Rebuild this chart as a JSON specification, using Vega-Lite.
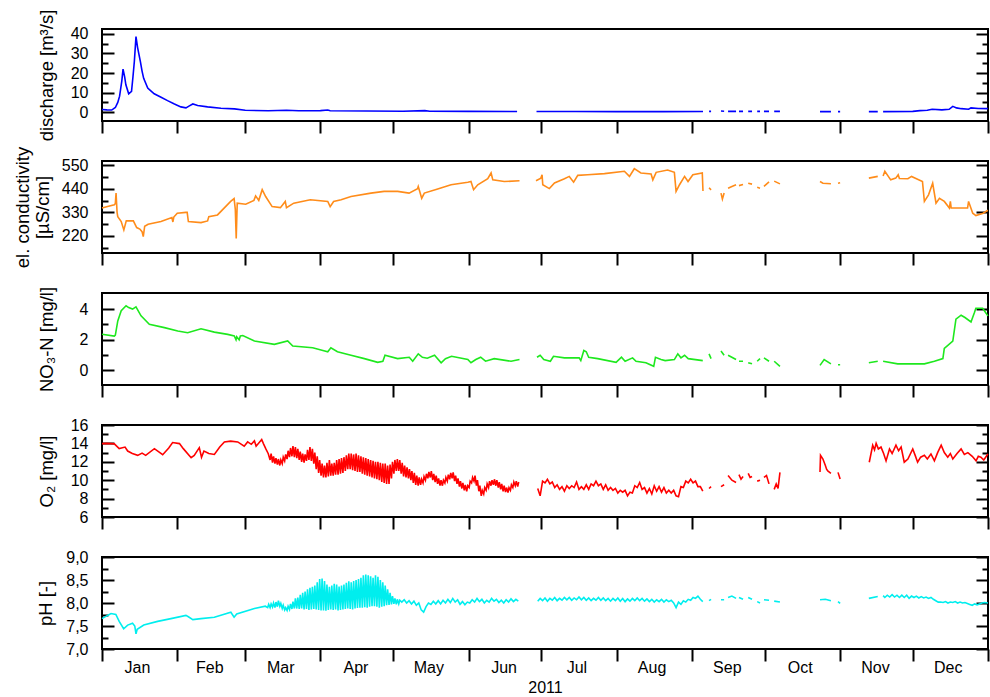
{
"$schema":"https://vega.github.io/schema/vega-lite/v6.json",
"padding":{"top":8,"left":12,"right":2,"bottom":2},
"spacing":40,
"bounds":"flush",
"config":{"view":{"stroke":"black","strokeWidth":2},"font":"Liberation Sans",
"axis":{"labelFont":"Liberation Sans","titleFont":"Liberation Sans","labelColor":"black","titleColor":"black","tickColor":"black","labelFontSize":16,"titleFontSize":18.5,"titleFontWeight":"normal","grid":false,"domain":false,"tickWidth":2,"labelOverlap":false,"labelBound":false,"labelFlush":false}},
"vconcat":[
{"width":886,"height":92,"resolve":{"axis":{"y":"independent"}},
"layer":[
{"data":{"format":{"parse":{"t":"date:'%Y-%m-%d %H'"}},"values":[
{"t":"2011-01-01 00","v":1.4},{"t":"2011-01-03 00","v":1.2},{"t":"2011-01-05 00","v":1.1},{"t":"2011-01-06 12","v":2.4},{"t":"2011-01-07 12","v":5},{"t":"2011-01-08 06","v":8.2},{"t":"2011-01-09 04","v":16},{"t":"2011-01-09 16","v":22},{"t":"2011-01-10 08","v":18},{"t":"2011-01-10 20","v":14},{"t":"2011-01-12 00","v":9.4},{"t":"2011-01-13 04","v":10.6},{"t":"2011-01-13 18","v":18},{"t":"2011-01-14 08","v":26},{"t":"2011-01-15 00","v":38.6},{"t":"2011-01-15 16","v":33},{"t":"2011-01-16 20","v":25.7},{"t":"2011-01-17 12","v":21},{"t":"2011-01-18 04","v":17.3},{"t":"2011-01-19 20","v":12.3},{"t":"2011-01-21 00","v":11},{"t":"2011-01-22 12","v":9.4},{"t":"2011-01-25 08","v":7.6},{"t":"2011-01-28 00","v":5.9},{"t":"2011-01-30 20","v":4.2},{"t":"2011-02-02 12","v":2.7},{"t":"2011-02-04 14","v":2.2},{"t":"2011-02-06 00","v":3.2},{"t":"2011-02-07 10","v":4.2},{"t":"2011-02-09 10","v":3.4},{"t":"2011-02-13 12","v":2.7},{"t":"2011-02-19 00","v":2.0},{"t":"2011-02-24 14","v":1.7},{"t":"2011-03-01 00","v":1.0},{"t":"2011-03-10 12","v":0.7},{"t":"2011-03-18 00","v":1.0},{"t":"2011-03-23 00","v":0.7},{"t":"2011-04-01 00","v":0.8},{"t":"2011-04-04 00","v":1.1},{"t":"2011-04-05 00","v":0.7},{"t":"2011-04-20 00","v":0.6},{"t":"2011-05-05 00","v":0.5},{"t":"2011-05-14 00","v":0.8},{"t":"2011-05-16 00","v":0.5},{"t":"2011-06-01 00","v":0.4},{"t":"2011-06-21 00","v":0.35},
{"t":"2011-06-25 00","v":null},
{"t":"2011-06-29 00","v":0.35},{"t":"2011-07-15 00","v":0.35},{"t":"2011-08-01 00","v":0.3},{"t":"2011-08-20 00","v":0.3},{"t":"2011-09-05 14","v":0.35},
{"t":"2011-09-07 00","v":null},{"t":"2011-09-08 02","v":0.4},{"t":"2011-09-08 22","v":0.4},
{"t":"2011-09-11 00","v":null},{"t":"2011-09-13 00","v":0.6},{"t":"2011-09-14 07","v":0.5},
{"t":"2011-09-15 03","v":null},{"t":"2011-09-15 22","v":0.4},{"t":"2011-09-19 05","v":0.4},
{"t":"2011-09-19 20","v":null},{"t":"2011-09-20 10","v":0.4},{"t":"2011-09-22 02","v":0.4},
{"t":"2011-09-23 00","v":null},{"t":"2011-09-24 05","v":0.4},{"t":"2011-09-25 19","v":0.4},
{"t":"2011-09-26 20","v":null},{"t":"2011-09-27 22","v":0.4},{"t":"2011-09-29 02","v":0.4},
{"t":"2011-09-29 20","v":null},{"t":"2011-09-30 17","v":0.4},{"t":"2011-10-02 19","v":0.4},
{"t":"2011-10-03 20","v":null},{"t":"2011-10-04 22","v":0.4},{"t":"2011-10-07 07","v":0.4},
{"t":"2011-10-15 00","v":null},{"t":"2011-10-23 19","v":0.3},{"t":"2011-10-28 07","v":0.3},
{"t":"2011-10-29 20","v":null},{"t":"2011-10-31 05","v":0.3},{"t":"2011-11-01 02","v":0.3},
{"t":"2011-11-07 00","v":null},{"t":"2011-11-12 22","v":0.3},{"t":"2011-11-16 14","v":0.3},
{"t":"2011-11-17 12","v":null},
{"t":"2011-11-18 19","v":0.3},{"t":"2011-12-01 00","v":0.4},{"t":"2011-12-04 00","v":0.8},{"t":"2011-12-07 00","v":1.0},{"t":"2011-12-09 00","v":1.5},{"t":"2011-12-13 00","v":1.2},{"t":"2011-12-16 00","v":1.5},{"t":"2011-12-17 12","v":3.0},{"t":"2011-12-19 00","v":2.2},{"t":"2011-12-21 00","v":1.8},{"t":"2011-12-24 00","v":1.5},{"t":"2011-12-25 00","v":2.2},{"t":"2011-12-28 00","v":1.9},{"t":"2011-12-31 23","v":1.8}
]},
"mark":{"type":"line","color":"#0000ff","strokeWidth":1.6,"invalid":"break-paths-show-domains"},
"encoding":{
"x":{"field":"t","type":"temporal","scale":{"domain":[{"year":2011,"month":1,"date":1},{"year":2012,"month":1,"date":1}]},"axis":{"values":[{"year":2011,"month":1,"date":1},{"year":2011,"month":2,"date":1},{"year":2011,"month":3,"date":1},{"year":2011,"month":4,"date":1},{"year":2011,"month":5,"date":1},{"year":2011,"month":6,"date":1},{"year":2011,"month":7,"date":1},{"year":2011,"month":8,"date":1},{"year":2011,"month":9,"date":1},{"year":2011,"month":10,"date":1},{"year":2011,"month":11,"date":1},{"year":2011,"month":12,"date":1},{"year":2012,"month":1,"date":1}],"labels":false,"tickSize":12,"title":null}},
"y":{"field":"v","type":"quantitative","scale":{"domain":[-4.5,42.5],"nice":false,"zero":false},"axis":{"orient":"left","values":[0,5,10,15,20,25,30,35,40],"labelExpr":"datum.value % 10 === 0 ? datum.label : ''","tickSize":{"condition":{"test":"datum.value % 10 === 0","value":-12},"value":-6},"labelPadding":26,"title":"discharge [m³/s]","titleX":-46}}}},
{"data":{"values":[{"v":20}]},"mark":{"type":"rule","opacity":0},
"encoding":{"y":{"field":"v","type":"quantitative","scale":{"domain":[-4.5,42.5],"nice":false,"zero":false},"axis":{"orient":"right","values":[0,5,10,15,20,25,30,35,40],"labels":false,"title":null,"tickSize":{"condition":{"test":"datum.value % 10 === 0","value":-12},"value":-6}}}}}
]},
{"width":886,"height":92,"resolve":{"axis":{"y":"independent"}},
"layer":[
{"data":{"format":{"parse":{"t":"date:'%Y-%m-%d %H'"}},"values":[
{"t":"2011-01-01 00","v":350},{"t":"2011-01-03 07","v":357},{"t":"2011-01-06 02","v":365},{"t":"2011-01-06 12","v":372},{"t":"2011-01-06 19","v":420},{"t":"2011-01-07 05","v":330},{"t":"2011-01-07 12","v":310},{"t":"2011-01-08 22","v":287},{"t":"2011-01-10 00","v":248},{"t":"2011-01-11 00","v":290},{"t":"2011-01-13 22","v":290},{"t":"2011-01-15 07","v":259},{"t":"2011-01-16 14","v":252},{"t":"2011-01-17 12","v":240},{"t":"2011-01-18 00","v":217},{"t":"2011-01-18 14","v":265},{"t":"2011-01-20 00","v":274},{"t":"2011-01-25 07","v":287},{"t":"2011-01-29 19","v":306},{"t":"2011-01-30 05","v":285},{"t":"2011-01-30 14","v":308},{"t":"2011-02-01 00","v":326},{"t":"2011-02-04 14","v":330},{"t":"2011-02-05 02","v":330},{"t":"2011-02-05 14","v":287},{"t":"2011-02-10 19","v":282},{"t":"2011-02-13 12","v":290},{"t":"2011-02-14 00","v":310},{"t":"2011-02-17 14","v":318},{"t":"2011-02-23 00","v":381},{"t":"2011-02-24 10","v":394},{"t":"2011-02-24 22","v":345},{"t":"2011-02-25 07","v":208},{"t":"2011-02-25 17","v":373},{"t":"2011-03-01 05","v":368},{"t":"2011-03-04 14","v":386},{"t":"2011-03-05 07","v":407},{"t":"2011-03-06 14","v":386},{"t":"2011-03-08 00","v":436},{"t":"2011-03-09 10","v":404},{"t":"2011-03-12 02","v":357},{"t":"2011-03-15 12","v":352},{"t":"2011-03-17 12","v":381},{"t":"2011-03-18 00","v":352},{"t":"2011-03-21 00","v":373},{"t":"2011-03-27 19","v":389},{"t":"2011-04-04 00","v":381},{"t":"2011-04-05 00","v":357},{"t":"2011-04-06 10","v":381},{"t":"2011-04-09 12","v":389},{"t":"2011-04-13 14","v":404},{"t":"2011-04-21 19","v":420},{"t":"2011-04-27 05","v":428},{"t":"2011-05-02 19","v":428},{"t":"2011-05-07 12","v":420},{"t":"2011-05-11 00","v":440},{"t":"2011-05-11 07","v":451},{"t":"2011-05-12 17","v":396},{"t":"2011-05-13 19","v":420},{"t":"2011-05-19 07","v":439},{"t":"2011-05-24 19","v":459},{"t":"2011-05-31 17","v":471},{"t":"2011-06-02 00","v":474},{"t":"2011-06-03 02","v":436},{"t":"2011-06-04 19","v":459},{"t":"2011-06-08 22","v":487},{"t":"2011-06-10 07","v":514},{"t":"2011-06-11 00","v":482},{"t":"2011-06-15 17","v":474},{"t":"2011-06-22 00","v":478},
{"t":"2011-06-25 00","v":null},
{"t":"2011-06-28 19","v":478},{"t":"2011-06-30 19","v":490},{"t":"2011-07-01 07","v":505},{"t":"2011-07-01 14","v":459},{"t":"2011-07-04 07","v":441},{"t":"2011-07-06 10","v":467},{"t":"2011-07-10 12","v":487},{"t":"2011-07-12 12","v":498},{"t":"2011-07-14 07","v":471},{"t":"2011-07-16 00","v":503},{"t":"2011-07-20 02","v":506},{"t":"2011-07-27 00","v":511},{"t":"2011-08-04 05","v":522},{"t":"2011-08-06 07","v":498},{"t":"2011-08-08 07","v":534},{"t":"2011-08-11 00","v":514},{"t":"2011-08-15 05","v":509},{"t":"2011-08-15 22","v":482},{"t":"2011-08-17 07","v":517},{"t":"2011-08-22 00","v":528},{"t":"2011-08-24 19","v":517},{"t":"2011-08-25 12","v":428},{"t":"2011-08-26 22","v":459},{"t":"2011-08-29 00","v":498},{"t":"2011-08-30 10","v":474},{"t":"2011-09-01 10","v":506},{"t":"2011-09-05 07","v":514},{"t":"2011-09-05 14","v":430},
{"t":"2011-09-07 00","v":null},{"t":"2011-09-08 02","v":445},{"t":"2011-09-08 22","v":435},
{"t":"2011-09-11 00","v":null},{"t":"2011-09-13 00","v":420},{"t":"2011-09-13 14","v":392},{"t":"2011-09-14 07","v":420},
{"t":"2011-09-15 03","v":null},{"t":"2011-09-15 22","v":443},{"t":"2011-09-17 12","v":451},{"t":"2011-09-19 05","v":459},
{"t":"2011-09-19 20","v":null},{"t":"2011-09-20 10","v":455},{"t":"2011-09-22 02","v":460},
{"t":"2011-09-23 00","v":null},{"t":"2011-09-24 05","v":466},{"t":"2011-09-25 19","v":462},
{"t":"2011-09-26 20","v":null},{"t":"2011-09-27 22","v":447},{"t":"2011-09-29 02","v":443},
{"t":"2011-09-29 20","v":null},{"t":"2011-09-30 17","v":451},{"t":"2011-10-02 19","v":472},
{"t":"2011-10-03 20","v":null},{"t":"2011-10-04 22","v":476},{"t":"2011-10-07 07","v":463},
{"t":"2011-10-15 00","v":null},{"t":"2011-10-23 19","v":474},{"t":"2011-10-25 00","v":466},{"t":"2011-10-28 07","v":464},
{"t":"2011-10-29 20","v":null},{"t":"2011-10-31 05","v":466},{"t":"2011-11-01 02","v":468},
{"t":"2011-11-07 00","v":null},{"t":"2011-11-12 22","v":490},{"t":"2011-11-16 14","v":498},
{"t":"2011-11-17 12","v":null},
{"t":"2011-11-18 19","v":500},{"t":"2011-11-19 12","v":522},{"t":"2011-11-21 22","v":482},{"t":"2011-11-24 00","v":490},{"t":"2011-11-25 00","v":506},{"t":"2011-11-25 12","v":488},{"t":"2011-11-29 00","v":487},{"t":"2011-11-30 12","v":498},{"t":"2011-12-05 00","v":474},{"t":"2011-12-05 19","v":381},{"t":"2011-12-07 12","v":412},{"t":"2011-12-09 05","v":466},{"t":"2011-12-10 14","v":373},{"t":"2011-12-12 00","v":396},{"t":"2011-12-14 00","v":381},{"t":"2011-12-16 02","v":350},{"t":"2011-12-16 12","v":381},{"t":"2011-12-16 20","v":350},{"t":"2011-12-23 14","v":350},{"t":"2011-12-24 00","v":381},{"t":"2011-12-25 17","v":326},{"t":"2011-12-27 00","v":315},{"t":"2011-12-30 00","v":326},{"t":"2011-12-31 23","v":340}
]},
"mark":{"type":"line","color":"#ff8c1a","strokeWidth":1.6,"invalid":"break-paths-show-domains"},
"encoding":{
"x":{"field":"t","type":"temporal","scale":{"domain":[{"year":2011,"month":1,"date":1},{"year":2012,"month":1,"date":1}]},"axis":{"values":[{"year":2011,"month":1,"date":1},{"year":2011,"month":2,"date":1},{"year":2011,"month":3,"date":1},{"year":2011,"month":4,"date":1},{"year":2011,"month":5,"date":1},{"year":2011,"month":6,"date":1},{"year":2011,"month":7,"date":1},{"year":2011,"month":8,"date":1},{"year":2011,"month":9,"date":1},{"year":2011,"month":10,"date":1},{"year":2011,"month":11,"date":1},{"year":2011,"month":12,"date":1},{"year":2012,"month":1,"date":1}],"labels":false,"tickSize":12,"title":null}},
"y":{"field":"v","type":"quantitative","scale":{"domain":[140,570],"nice":false,"zero":false},"axis":{"orient":"left","values":[165,220,275,330,385,440,495,550],"labelExpr":"datum.value % 110 === 0 ? datum.label : ''","tickSize":{"condition":{"test":"datum.value % 110 === 0","value":-12},"value":-6},"labelPadding":26,"title":["el. conductivity","[µS/cm]"],"titleLineHeight":20,"titleX":-70}}}},
{"data":{"values":[{"v":300}]},"mark":{"type":"rule","opacity":0},
"encoding":{"y":{"field":"v","type":"quantitative","scale":{"domain":[140,570],"nice":false,"zero":false},"axis":{"orient":"right","values":[165,220,275,330,385,440,495,550],"labels":false,"title":null,"tickSize":{"condition":{"test":"datum.value % 110 === 0","value":-12},"value":-6}}}}}
]},
{"width":886,"height":92,"resolve":{"axis":{"y":"independent"}},
"layer":[
{"data":{"format":{"parse":{"t":"date:'%Y-%m-%d %H'"}},"values":[
{"t":"2011-01-01 00","v":2.36},{"t":"2011-01-06 02","v":2.24},{"t":"2011-01-06 12","v":2.3},{"t":"2011-01-07 12","v":3.23},{"t":"2011-01-08 22","v":3.89},{"t":"2011-01-10 22","v":4.22},{"t":"2011-01-12 00","v":4.1},{"t":"2011-01-13 14","v":4.0},{"t":"2011-01-15 00","v":4.15},{"t":"2011-01-17 02","v":3.56},{"t":"2011-01-20 12","v":3.01},{"t":"2011-01-26 17","v":2.79},{"t":"2011-02-01 05","v":2.57},{"t":"2011-02-05 07","v":2.46},{"t":"2011-02-10 19","v":2.72},{"t":"2011-02-16 07","v":2.5},{"t":"2011-02-21 19","v":2.35},{"t":"2011-02-24 12","v":2.25},{"t":"2011-02-25 05","v":2.0},{"t":"2011-02-25 12","v":2.2},{"t":"2011-02-26 12","v":2.0},{"t":"2011-02-27 00","v":2.25},{"t":"2011-02-28 00","v":2.28},{"t":"2011-03-04 19","v":1.92},{"t":"2011-03-13 00","v":1.70},{"t":"2011-03-18 12","v":1.92},{"t":"2011-03-20 14","v":1.59},{"t":"2011-03-28 19","v":1.48},{"t":"2011-04-02 00","v":1.3},{"t":"2011-04-04 00","v":1.22},{"t":"2011-04-05 07","v":1.48},{"t":"2011-04-08 00","v":1.22},{"t":"2011-04-13 14","v":0.99},{"t":"2011-04-19 02","v":0.77},{"t":"2011-04-24 14","v":0.53},{"t":"2011-04-26 17","v":0.6},{"t":"2011-04-27 14","v":0.99},{"t":"2011-05-02 19","v":0.77},{"t":"2011-05-07 14","v":0.86},{"t":"2011-05-09 00","v":0.6},{"t":"2011-05-11 07","v":1.08},{"t":"2011-05-13 00","v":0.86},{"t":"2011-05-15 00","v":0.8},{"t":"2011-05-18 00","v":0.99},{"t":"2011-05-20 17","v":0.5},{"t":"2011-05-22 12","v":0.77},{"t":"2011-05-25 00","v":0.92},{"t":"2011-05-31 17","v":0.71},{"t":"2011-06-02 00","v":0.5},{"t":"2011-06-04 00","v":0.71},{"t":"2011-06-06 00","v":0.86},{"t":"2011-06-08 00","v":0.6},{"t":"2011-06-11 14","v":0.77},{"t":"2011-06-18 12","v":0.6},{"t":"2011-06-22 00","v":0.71},
{"t":"2011-06-25 00","v":null},
{"t":"2011-06-29 05","v":0.86},{"t":"2011-06-30 12","v":0.99},{"t":"2011-07-02 00","v":0.71},{"t":"2011-07-04 17","v":0.6},{"t":"2011-07-06 00","v":0.92},{"t":"2011-07-10 12","v":0.82},{"t":"2011-07-16 14","v":0.82},{"t":"2011-07-17 06","v":0.64},{"t":"2011-07-18 12","v":1.3},{"t":"2011-07-19 12","v":1.22},{"t":"2011-07-20 12","v":0.86},{"t":"2011-07-24 05","v":0.77},{"t":"2011-07-31 19","v":0.53},{"t":"2011-08-03 00","v":0.86},{"t":"2011-08-04 12","v":0.6},{"t":"2011-08-07 14","v":0.82},{"t":"2011-08-09 00","v":0.6},{"t":"2011-08-13 02","v":0.5},{"t":"2011-08-16 07","v":0.27},{"t":"2011-08-17 00","v":0.86},{"t":"2011-08-19 07","v":0.71},{"t":"2011-08-21 00","v":0.64},{"t":"2011-08-24 19","v":0.71},{"t":"2011-08-26 05","v":1.08},{"t":"2011-08-27 12","v":0.82},{"t":"2011-08-29 00","v":0.99},{"t":"2011-08-30 12","v":0.77},{"t":"2011-09-05 12","v":0.64},
{"t":"2011-09-07 00","v":null},{"t":"2011-09-08 02","v":1.08},{"t":"2011-09-08 22","v":0.77},
{"t":"2011-09-11 00","v":null},{"t":"2011-09-13 00","v":1.27},{"t":"2011-09-14 07","v":0.99},
{"t":"2011-09-15 03","v":null},{"t":"2011-09-15 22","v":0.99},{"t":"2011-09-19 05","v":0.71},
{"t":"2011-09-19 20","v":null},{"t":"2011-09-20 10","v":0.6},{"t":"2011-09-22 02","v":0.6},
{"t":"2011-09-23 00","v":null},{"t":"2011-09-24 05","v":0.5},{"t":"2011-09-25 19","v":0.43},
{"t":"2011-09-26 20","v":null},{"t":"2011-09-27 22","v":0.6},{"t":"2011-09-29 02","v":0.77},
{"t":"2011-09-29 20","v":null},{"t":"2011-09-30 17","v":0.82},{"t":"2011-10-02 19","v":0.6},
{"t":"2011-10-03 20","v":null},{"t":"2011-10-04 22","v":0.6},{"t":"2011-10-07 07","v":0.27},
{"t":"2011-10-15 00","v":null},{"t":"2011-10-23 19","v":0.33},{"t":"2011-10-25 12","v":0.71},{"t":"2011-10-28 07","v":0.43},
{"t":"2011-10-29 20","v":null},{"t":"2011-10-31 05","v":0.37},{"t":"2011-11-01 02","v":0.37},
{"t":"2011-11-07 00","v":null},{"t":"2011-11-12 22","v":0.5},{"t":"2011-11-16 14","v":0.6},
{"t":"2011-11-17 12","v":null},
{"t":"2011-11-18 19","v":0.6},{"t":"2011-11-24 19","v":0.43},{"t":"2011-12-05 19","v":0.43},{"t":"2011-12-09 22","v":0.6},{"t":"2011-12-13 10","v":0.77},{"t":"2011-12-14 00","v":1.43},{"t":"2011-12-17 12","v":1.92},{"t":"2011-12-18 19","v":3.34},{"t":"2011-12-20 22","v":3.6},{"t":"2011-12-22 12","v":3.45},{"t":"2011-12-25 00","v":3.16},{"t":"2011-12-26 10","v":3.78},{"t":"2011-12-27 00","v":4.06},{"t":"2011-12-29 19","v":4.06},{"t":"2011-12-30 12","v":3.89},{"t":"2011-12-31 23","v":3.56}
]},
"mark":{"type":"line","color":"#1ee81e","strokeWidth":1.6,"invalid":"break-paths-show-domains"},
"encoding":{
"x":{"field":"t","type":"temporal","scale":{"domain":[{"year":2011,"month":1,"date":1},{"year":2012,"month":1,"date":1}]},"axis":{"values":[{"year":2011,"month":1,"date":1},{"year":2011,"month":2,"date":1},{"year":2011,"month":3,"date":1},{"year":2011,"month":4,"date":1},{"year":2011,"month":5,"date":1},{"year":2011,"month":6,"date":1},{"year":2011,"month":7,"date":1},{"year":2011,"month":8,"date":1},{"year":2011,"month":9,"date":1},{"year":2011,"month":10,"date":1},{"year":2011,"month":11,"date":1},{"year":2011,"month":12,"date":1},{"year":2012,"month":1,"date":1}],"labels":false,"tickSize":12,"title":null}},
"y":{"field":"v","type":"quantitative","scale":{"domain":[-0.95,5.05],"nice":false,"zero":false},"axis":{"orient":"left","values":[0,1,2,3,4],"labelExpr":"datum.value % 2 === 0 ? datum.label : ''","tickSize":{"condition":{"test":"datum.value % 2 === 0","value":-12},"value":-6},"labelPadding":26,"title":"NO₃-N [mg/l]","titleX":-46}}}},
{"data":{"values":[{"v":2}]},"mark":{"type":"rule","opacity":0},
"encoding":{"y":{"field":"v","type":"quantitative","scale":{"domain":[-0.95,5.05],"nice":false,"zero":false},"axis":{"orient":"right","values":[0,1,2,3,4],"labels":false,"title":null,"tickSize":{"condition":{"test":"datum.value % 2 === 0","value":-12},"value":-6}}}}}
]},
{"width":886,"height":92,"resolve":{"axis":{"y":"independent"}},
"layer":[
{"data":{"format":{"parse":{"t":"date:'%Y-%m-%d %H'"}},"values":[
{"t":"2011-01-01 00","v":13.98},{"t":"2011-01-03 00","v":14.0},{"t":"2011-01-06 02","v":13.95},{"t":"2011-01-08 02","v":13.43},{"t":"2011-01-10 12","v":13.6},{"t":"2011-01-11 14","v":13.17},{"t":"2011-01-13 12","v":12.9},{"t":"2011-01-15 17","v":12.7},{"t":"2011-01-17 12","v":12.95},{"t":"2011-01-19 00","v":12.7},{"t":"2011-01-22 14","v":13.43},{"t":"2011-01-26 00","v":12.77},{"t":"2011-01-28 12","v":13.5},{"t":"2011-01-30 02","v":14.09},{"t":"2011-02-01 22","v":13.98},{"t":"2011-02-03 12","v":13.43},{"t":"2011-02-06 17","v":12.44},{"t":"2011-02-08 00","v":12.7},{"t":"2011-02-10 02","v":13.54},{"t":"2011-02-11 00","v":12.5},{"t":"2011-02-12 00","v":13.17},{"t":"2011-02-14 00","v":12.9},{"t":"2011-02-16 07","v":12.8},{"t":"2011-02-18 12","v":13.6},{"t":"2011-02-20 10","v":14.16},{"t":"2011-02-23 00","v":14.25},{"t":"2011-02-25 22","v":14.16},{"t":"2011-02-28 14","v":13.7},{"t":"2011-03-02 00","v":14.16},{"t":"2011-03-03 12","v":13.9},{"t":"2011-03-04 19","v":14.27},{"t":"2011-03-05 12","v":13.7},{"t":"2011-03-07 19","v":14.42},{"t":"2011-03-08 12","v":13.98},{"t":"2011-03-09 12","v":13.4},{"t":"2011-03-10 12","v":12.88},
{"t":"2011-03-11 06","v":12.2},{"t":"2011-03-11 16","v":12.9},{"t":"2011-03-12 06","v":11.9},{"t":"2011-03-12 16","v":12.6},{"t":"2011-03-13 06","v":11.8},{"t":"2011-03-13 16","v":12.4},{"t":"2011-03-14 06","v":11.7},{"t":"2011-03-14 16","v":12.3},{"t":"2011-03-15 06","v":11.6},{"t":"2011-03-15 16","v":12.2},{"t":"2011-03-16 06","v":11.8},{"t":"2011-03-16 16","v":12.5},{"t":"2011-03-17 06","v":12.1},{"t":"2011-03-17 16","v":12.8},{"t":"2011-03-18 06","v":12.3},{"t":"2011-03-18 16","v":13.2},{"t":"2011-03-19 06","v":12.5},{"t":"2011-03-19 16","v":13.5},{"t":"2011-03-20 06","v":12.6},{"t":"2011-03-20 16","v":13.7},{"t":"2011-03-21 06","v":12.5},{"t":"2011-03-21 16","v":13.6},{"t":"2011-03-22 06","v":12.4},{"t":"2011-03-22 16","v":13.4},{"t":"2011-03-23 06","v":12.2},{"t":"2011-03-23 16","v":13.1},{"t":"2011-03-24 06","v":12.0},{"t":"2011-03-24 16","v":12.9},{"t":"2011-03-25 06","v":11.9},{"t":"2011-03-25 16","v":12.8},{"t":"2011-03-26 06","v":12.1},{"t":"2011-03-26 16","v":13.3},{"t":"2011-03-27 06","v":12.2},{"t":"2011-03-27 16","v":13.6},{"t":"2011-03-28 06","v":12.1},{"t":"2011-03-28 16","v":13.4},{"t":"2011-03-29 06","v":11.8},{"t":"2011-03-29 16","v":13.0},{"t":"2011-03-30 06","v":11.2},{"t":"2011-03-30 16","v":12.6},{"t":"2011-03-31 06","v":10.8},{"t":"2011-03-31 16","v":12.2},
{"t":"2011-04-01 06","v":10.5},{"t":"2011-04-01 16","v":11.8},{"t":"2011-04-02 06","v":10.3},{"t":"2011-04-02 16","v":11.6},{"t":"2011-04-03 06","v":10.3},{"t":"2011-04-03 16","v":11.9},{"t":"2011-04-04 06","v":10.4},{"t":"2011-04-04 16","v":12.2},{"t":"2011-04-05 06","v":10.5},{"t":"2011-04-05 16","v":11.8},{"t":"2011-04-06 06","v":10.5},{"t":"2011-04-06 16","v":11.9},{"t":"2011-04-07 06","v":10.6},{"t":"2011-04-07 16","v":12.2},{"t":"2011-04-08 06","v":10.6},{"t":"2011-04-08 16","v":12.3},{"t":"2011-04-09 06","v":10.7},{"t":"2011-04-09 16","v":12.4},{"t":"2011-04-10 06","v":10.8},{"t":"2011-04-10 16","v":12.5},{"t":"2011-04-11 06","v":11.0},{"t":"2011-04-11 16","v":12.7},{"t":"2011-04-12 06","v":11.2},{"t":"2011-04-12 16","v":12.9},{"t":"2011-04-13 06","v":11.2},{"t":"2011-04-13 16","v":12.9},{"t":"2011-04-14 06","v":11.1},{"t":"2011-04-14 16","v":12.8},{"t":"2011-04-15 06","v":11.0},{"t":"2011-04-15 16","v":12.9},{"t":"2011-04-16 06","v":10.9},{"t":"2011-04-16 16","v":12.7},{"t":"2011-04-17 06","v":10.9},{"t":"2011-04-17 16","v":12.6},{"t":"2011-04-18 06","v":10.7},{"t":"2011-04-18 16","v":12.5},{"t":"2011-04-19 06","v":10.6},{"t":"2011-04-19 16","v":12.4},{"t":"2011-04-20 06","v":10.5},{"t":"2011-04-20 16","v":12.3},{"t":"2011-04-21 06","v":10.4},{"t":"2011-04-21 16","v":12.2},{"t":"2011-04-22 06","v":10.3},{"t":"2011-04-22 16","v":12.1},{"t":"2011-04-23 06","v":10.2},{"t":"2011-04-23 16","v":12.0},{"t":"2011-04-24 06","v":10.1},{"t":"2011-04-24 16","v":12.0},{"t":"2011-04-25 06","v":10.0},{"t":"2011-04-25 16","v":11.9},{"t":"2011-04-26 06","v":9.8},{"t":"2011-04-26 16","v":11.8},{"t":"2011-04-27 06","v":9.7},{"t":"2011-04-27 16","v":11.8},{"t":"2011-04-28 06","v":9.6},{"t":"2011-04-28 16","v":11.6},{"t":"2011-04-29 06","v":9.6},{"t":"2011-04-29 16","v":11.7},{"t":"2011-04-30 06","v":10.2},{"t":"2011-04-30 16","v":12.0},
{"t":"2011-05-01 06","v":10.7},{"t":"2011-05-01 16","v":12.2},{"t":"2011-05-02 06","v":11.0},{"t":"2011-05-02 16","v":12.3},{"t":"2011-05-03 06","v":11.0},{"t":"2011-05-03 16","v":12.2},{"t":"2011-05-04 06","v":10.7},{"t":"2011-05-04 16","v":11.9},{"t":"2011-05-05 06","v":10.4},{"t":"2011-05-05 16","v":11.6},{"t":"2011-05-06 06","v":10.3},{"t":"2011-05-06 16","v":11.4},{"t":"2011-05-07 06","v":10.2},{"t":"2011-05-07 16","v":11.2},{"t":"2011-05-08 06","v":10.0},{"t":"2011-05-08 16","v":11.0},{"t":"2011-05-09 06","v":9.7},{"t":"2011-05-09 16","v":10.8},{"t":"2011-05-10 06","v":9.5},{"t":"2011-05-10 16","v":10.5},{"t":"2011-05-11 06","v":9.4},{"t":"2011-05-11 16","v":10.3},
{"t":"2011-05-12 06","v":9.5},{"t":"2011-05-12 16","v":10.1},{"t":"2011-05-13 06","v":9.7},{"t":"2011-05-13 16","v":10.4},{"t":"2011-05-14 06","v":10.0},{"t":"2011-05-14 16","v":10.7},{"t":"2011-05-15 06","v":10.2},{"t":"2011-05-15 16","v":10.9},{"t":"2011-05-16 06","v":10.3},{"t":"2011-05-16 16","v":11.0},{"t":"2011-05-17 06","v":10.0},{"t":"2011-05-17 16","v":10.7},{"t":"2011-05-18 06","v":9.8},{"t":"2011-05-18 16","v":10.5},{"t":"2011-05-19 06","v":9.6},{"t":"2011-05-19 16","v":10.2},{"t":"2011-05-20 06","v":9.4},{"t":"2011-05-20 16","v":10.0},{"t":"2011-05-21 06","v":9.4},{"t":"2011-05-21 16","v":10.0},{"t":"2011-05-22 06","v":9.7},{"t":"2011-05-22 16","v":10.3},{"t":"2011-05-23 06","v":9.9},{"t":"2011-05-23 16","v":10.6},{"t":"2011-05-24 06","v":10.1},{"t":"2011-05-24 16","v":10.8},{"t":"2011-05-25 06","v":10.2},{"t":"2011-05-25 16","v":10.85},{"t":"2011-05-26 06","v":9.9},{"t":"2011-05-26 16","v":10.5},{"t":"2011-05-27 06","v":9.6},{"t":"2011-05-27 16","v":10.2},{"t":"2011-05-28 06","v":9.3},{"t":"2011-05-28 16","v":9.9},{"t":"2011-05-29 06","v":9.1},{"t":"2011-05-29 16","v":9.7},{"t":"2011-05-30 06","v":8.9},{"t":"2011-05-30 16","v":9.5},{"t":"2011-05-31 06","v":8.8},{"t":"2011-05-31 16","v":9.4},
{"t":"2011-06-01 06","v":9.2},{"t":"2011-06-01 16","v":9.9},{"t":"2011-06-02 06","v":9.7},{"t":"2011-06-02 16","v":10.3},{"t":"2011-06-03 06","v":9.9},{"t":"2011-06-03 16","v":10.5},{"t":"2011-06-04 06","v":9.4},{"t":"2011-06-04 16","v":10.0},{"t":"2011-06-05 06","v":8.8},{"t":"2011-06-05 16","v":9.4},{"t":"2011-06-06 06","v":8.3},{"t":"2011-06-06 16","v":8.9},{"t":"2011-06-07 06","v":8.5},{"t":"2011-06-07 16","v":9.2},{"t":"2011-06-08 06","v":8.9},{"t":"2011-06-08 16","v":9.6},{"t":"2011-06-09 06","v":9.2},{"t":"2011-06-09 16","v":9.9},{"t":"2011-06-10 06","v":9.4},{"t":"2011-06-10 16","v":10.0},{"t":"2011-06-11 06","v":9.5},{"t":"2011-06-11 16","v":10.1},{"t":"2011-06-12 06","v":9.4},{"t":"2011-06-12 16","v":10.0},{"t":"2011-06-13 06","v":9.2},{"t":"2011-06-13 16","v":9.8},{"t":"2011-06-14 06","v":9.0},{"t":"2011-06-14 16","v":9.6},{"t":"2011-06-15 06","v":8.8},{"t":"2011-06-15 16","v":9.4},{"t":"2011-06-16 06","v":8.7},{"t":"2011-06-16 16","v":9.2},{"t":"2011-06-17 06","v":8.65},{"t":"2011-06-17 16","v":9.2},{"t":"2011-06-18 06","v":8.9},{"t":"2011-06-18 16","v":9.5},{"t":"2011-06-19 06","v":9.2},{"t":"2011-06-19 16","v":9.8},{"t":"2011-06-20 06","v":9.4},{"t":"2011-06-20 16","v":9.9},{"t":"2011-06-21 06","v":9.3},{"t":"2011-06-21 16","v":9.8},
{"t":"2011-06-25 00","v":null},
{"t":"2011-06-29 12","v":9.1},{"t":"2011-06-30 12","v":8.3},{"t":"2011-07-01 12","v":9.9},{"t":"2011-07-02 12","v":9.7},{"t":"2011-07-03 12","v":10.1},{"t":"2011-07-04 12","v":9.6},{"t":"2011-07-05 12","v":9.8},{"t":"2011-07-06 12","v":9.2},{"t":"2011-07-07 12","v":9.5},{"t":"2011-07-08 12","v":9.0},{"t":"2011-07-09 12","v":9.3},{"t":"2011-07-10 12","v":8.8},{"t":"2011-07-11 12","v":9.4},{"t":"2011-07-12 12","v":9.1},{"t":"2011-07-13 12","v":9.4},{"t":"2011-07-14 12","v":9.2},{"t":"2011-07-15 12","v":9.8},{"t":"2011-07-16 12","v":9.0},{"t":"2011-07-17 12","v":9.3},{"t":"2011-07-18 12","v":9.0},{"t":"2011-07-19 12","v":9.5},{"t":"2011-07-20 12","v":9.0},{"t":"2011-07-21 12","v":9.6},{"t":"2011-07-22 12","v":9.4},{"t":"2011-07-23 12","v":9.9},{"t":"2011-07-24 12","v":9.4},{"t":"2011-07-25 12","v":9.6},{"t":"2011-07-26 12","v":9.0},{"t":"2011-07-27 12","v":9.5},{"t":"2011-07-28 12","v":8.9},{"t":"2011-07-29 12","v":9.2},{"t":"2011-07-30 12","v":8.9},{"t":"2011-07-31 12","v":9.1},{"t":"2011-08-01 12","v":8.6},{"t":"2011-08-02 12","v":8.9},{"t":"2011-08-03 12","v":8.7},{"t":"2011-08-04 12","v":8.9},{"t":"2011-08-05 12","v":8.3},{"t":"2011-08-06 12","v":8.7},{"t":"2011-08-07 12","v":8.6},{"t":"2011-08-08 12","v":9.4},{"t":"2011-08-09 12","v":9.2},{"t":"2011-08-10 12","v":9.75},{"t":"2011-08-11 12","v":9.0},{"t":"2011-08-12 12","v":9.2},{"t":"2011-08-13 12","v":8.6},{"t":"2011-08-14 12","v":9.1},{"t":"2011-08-15 12","v":8.5},{"t":"2011-08-16 12","v":9.4},{"t":"2011-08-17 12","v":8.8},{"t":"2011-08-18 12","v":9.3},{"t":"2011-08-19 12","v":8.7},{"t":"2011-08-20 12","v":9.2},{"t":"2011-08-21 12","v":8.6},{"t":"2011-08-22 12","v":8.9},{"t":"2011-08-23 12","v":8.6},{"t":"2011-08-24 12","v":8.9},{"t":"2011-08-25 12","v":8.3},{"t":"2011-08-26 12","v":8.2},{"t":"2011-08-27 12","v":9.3},{"t":"2011-08-28 12","v":9.2},{"t":"2011-08-29 12","v":9.9},{"t":"2011-08-30 12","v":9.7},{"t":"2011-08-31 12","v":10.1},{"t":"2011-09-01 12","v":9.7},{"t":"2011-09-02 12","v":9.9},{"t":"2011-09-03 12","v":9.3},{"t":"2011-09-04 12","v":9.3},{"t":"2011-09-05 12","v":8.8},
{"t":"2011-09-07 00","v":null},{"t":"2011-09-08 02","v":9.1},{"t":"2011-09-08 22","v":9.3},
{"t":"2011-09-11 00","v":null},{"t":"2011-09-13 00","v":9.3},{"t":"2011-09-14 07","v":9.5},
{"t":"2011-09-15 03","v":null},{"t":"2011-09-15 22","v":10.5},{"t":"2011-09-17 12","v":10.0},{"t":"2011-09-19 05","v":9.75},
{"t":"2011-09-19 20","v":null},{"t":"2011-09-20 10","v":10.6},{"t":"2011-09-21 06","v":10.1},{"t":"2011-09-22 02","v":10.4},
{"t":"2011-09-23 00","v":null},{"t":"2011-09-24 05","v":10.75},{"t":"2011-09-25 00","v":10.3},{"t":"2011-09-25 19","v":10.4},
{"t":"2011-09-26 20","v":null},{"t":"2011-09-27 22","v":9.9},{"t":"2011-09-29 02","v":10.0},
{"t":"2011-09-29 20","v":null},{"t":"2011-09-30 17","v":10.3},{"t":"2011-10-01 18","v":10.5},{"t":"2011-10-02 19","v":9.6},
{"t":"2011-10-03 20","v":null},{"t":"2011-10-04 22","v":9.0},{"t":"2011-10-05 18","v":9.6},{"t":"2011-10-06 12","v":9.1},{"t":"2011-10-07 07","v":10.85},
{"t":"2011-10-15 00","v":null},{"t":"2011-10-23 19","v":10.9},{"t":"2011-10-24 00","v":12.7},{"t":"2011-10-25 00","v":12.3},{"t":"2011-10-26 00","v":11.6},{"t":"2011-10-26 12","v":11.2},{"t":"2011-10-27 00","v":11.0},{"t":"2011-10-28 07","v":10.75},
{"t":"2011-10-29 20","v":null},{"t":"2011-10-31 05","v":10.85},{"t":"2011-11-01 02","v":10.12},
{"t":"2011-11-07 00","v":null},
{"t":"2011-11-13 02","v":11.95},{"t":"2011-11-14 12","v":13.8},{"t":"2011-11-15 06","v":13.3},{"t":"2011-11-15 22","v":14.0},{"t":"2011-11-16 20","v":13.4},{"t":"2011-11-17 22","v":13.6},{"t":"2011-11-19 00","v":12.9},{"t":"2011-11-20 00","v":12.1},{"t":"2011-11-21 10","v":13.4},{"t":"2011-11-22 12","v":12.9},{"t":"2011-11-24 02","v":13.8},{"t":"2011-11-25 04","v":13.2},{"t":"2011-11-26 05","v":13.6},{"t":"2011-11-27 12","v":11.96},{"t":"2011-11-29 00","v":12.3},{"t":"2011-12-01 00","v":13.4},{"t":"2011-12-02 00","v":12.7},{"t":"2011-12-03 00","v":11.96},{"t":"2011-12-04 06","v":12.5},{"t":"2011-12-05 19","v":12.7},{"t":"2011-12-07 00","v":12.3},{"t":"2011-12-08 12","v":12.85},{"t":"2011-12-09 22","v":12.1},{"t":"2011-12-11 06","v":13.0},{"t":"2011-12-12 17","v":13.8},{"t":"2011-12-14 00","v":13.0},{"t":"2011-12-15 10","v":12.5},{"t":"2011-12-16 12","v":12.9},{"t":"2011-12-17 12","v":12.3},{"t":"2011-12-19 06","v":12.9},{"t":"2011-12-20 22","v":13.4},{"t":"2011-12-22 06","v":12.8},{"t":"2011-12-23 17","v":13.0},{"t":"2011-12-25 12","v":12.6},{"t":"2011-12-27 02","v":12.1},{"t":"2011-12-28 00","v":12.6},{"t":"2011-12-29 02","v":12.5},{"t":"2011-12-30 06","v":12.2},{"t":"2011-12-31 23","v":12.85}
]},
"mark":{"type":"line","color":"#ff0000","strokeWidth":1.6,"invalid":"break-paths-show-domains"},
"encoding":{
"x":{"field":"t","type":"temporal","scale":{"domain":[{"year":2011,"month":1,"date":1},{"year":2012,"month":1,"date":1}]},"axis":{"values":[{"year":2011,"month":1,"date":1},{"year":2011,"month":2,"date":1},{"year":2011,"month":3,"date":1},{"year":2011,"month":4,"date":1},{"year":2011,"month":5,"date":1},{"year":2011,"month":6,"date":1},{"year":2011,"month":7,"date":1},{"year":2011,"month":8,"date":1},{"year":2011,"month":9,"date":1},{"year":2011,"month":10,"date":1},{"year":2011,"month":11,"date":1},{"year":2011,"month":12,"date":1},{"year":2012,"month":1,"date":1}],"labels":false,"tickSize":12,"title":null}},
"y":{"field":"v","type":"quantitative","scale":{"domain":[6,16],"nice":false,"zero":false},"axis":{"orient":"left","values":[6,7,8,9,10,11,12,13,14,15,16],"labelExpr":"datum.value % 2 === 0 ? datum.label : ''","tickSize":{"condition":{"test":"datum.value % 2 === 0","value":-12},"value":-6},"labelPadding":26,"title":"O₂ [mg/l]","titleX":-46}}}},
{"data":{"values":[{"v":10}]},"mark":{"type":"rule","opacity":0},
"encoding":{"y":{"field":"v","type":"quantitative","scale":{"domain":[6,16],"nice":false,"zero":false},"axis":{"orient":"right","values":[6,7,8,9,10,11,12,13,14,15,16],"labels":false,"title":null,"tickSize":{"condition":{"test":"datum.value % 2 === 0","value":-12},"value":-6}}}}}
]},
{"width":886,"height":92,"resolve":{"axis":{"y":"independent"}},
"layer":[
{"data":{"format":{"parse":{"t":"date:'%Y-%m-%d %H'"}},"values":[
{"t":"2011-01-01 00","v":7.66},{"t":"2011-01-03 07","v":7.73},{"t":"2011-01-04 17","v":7.77},{"t":"2011-01-06 17","v":7.75},{"t":"2011-01-08 02","v":7.6},{"t":"2011-01-09 22","v":7.44},{"t":"2011-01-11 14","v":7.52},{"t":"2011-01-13 14","v":7.56},{"t":"2011-01-14 12","v":7.5},{"t":"2011-01-15 00","v":7.33},{"t":"2011-01-15 12","v":7.43},{"t":"2011-01-18 05","v":7.52},{"t":"2011-01-23 22","v":7.6},{"t":"2011-01-29 10","v":7.66},{"t":"2011-02-04 14","v":7.73},{"t":"2011-02-05 14","v":7.7},{"t":"2011-02-07 10","v":7.64},{"t":"2011-02-10 19","v":7.66},{"t":"2011-02-16 07","v":7.69},{"t":"2011-02-23 02","v":7.8},{"t":"2011-02-24 10","v":7.69},{"t":"2011-02-25 12","v":7.76},{"t":"2011-03-04 19","v":7.88},{"t":"2011-03-09 07","v":7.93},
{"t":"2011-03-10 06","v":7.9},{"t":"2011-03-10 16","v":7.97},{"t":"2011-03-11 06","v":7.9},{"t":"2011-03-11 16","v":7.98},{"t":"2011-03-12 06","v":7.91},{"t":"2011-03-12 16","v":8.0},{"t":"2011-03-13 06","v":7.9},{"t":"2011-03-13 16","v":8.02},{"t":"2011-03-14 06","v":7.92},{"t":"2011-03-14 16","v":8.05},{"t":"2011-03-15 06","v":7.93},{"t":"2011-03-15 16","v":7.99},{"t":"2011-03-16 06","v":7.88},{"t":"2011-03-16 16","v":7.95},{"t":"2011-03-17 06","v":7.85},{"t":"2011-03-17 16","v":7.9},{"t":"2011-03-18 06","v":7.84},{"t":"2011-03-18 16","v":7.93},{"t":"2011-03-19 06","v":7.86},{"t":"2011-03-19 16","v":7.98},{"t":"2011-03-20 06","v":7.87},{"t":"2011-03-20 16","v":8.03},
{"t":"2011-03-21 06","v":7.88},{"t":"2011-03-21 16","v":8.1},{"t":"2011-03-22 06","v":7.88},{"t":"2011-03-22 16","v":8.12},{"t":"2011-03-23 06","v":7.87},{"t":"2011-03-23 16","v":8.18},{"t":"2011-03-24 06","v":7.88},{"t":"2011-03-24 16","v":8.22},{"t":"2011-03-25 06","v":7.86},{"t":"2011-03-25 16","v":8.25},{"t":"2011-03-26 06","v":7.87},{"t":"2011-03-26 16","v":8.3},{"t":"2011-03-27 06","v":7.85},{"t":"2011-03-27 16","v":8.33},{"t":"2011-03-28 06","v":7.86},{"t":"2011-03-28 16","v":8.35},{"t":"2011-03-29 06","v":7.87},{"t":"2011-03-29 16","v":8.38},{"t":"2011-03-30 06","v":7.86},{"t":"2011-03-30 16","v":8.45},{"t":"2011-03-31 06","v":7.85},{"t":"2011-03-31 16","v":8.52},
{"t":"2011-04-01 06","v":7.84},{"t":"2011-04-01 16","v":8.53},{"t":"2011-04-02 06","v":7.84},{"t":"2011-04-02 16","v":8.48},{"t":"2011-04-03 06","v":7.83},{"t":"2011-04-03 16","v":8.4},{"t":"2011-04-04 06","v":7.85},{"t":"2011-04-04 16","v":8.35},{"t":"2011-04-05 06","v":7.86},{"t":"2011-04-05 16","v":8.38},{"t":"2011-04-06 06","v":7.85},{"t":"2011-04-06 16","v":8.42},{"t":"2011-04-07 06","v":7.86},{"t":"2011-04-07 16","v":8.4},{"t":"2011-04-08 06","v":7.84},{"t":"2011-04-08 16","v":8.36},{"t":"2011-04-09 06","v":7.85},{"t":"2011-04-09 16","v":8.38},{"t":"2011-04-10 06","v":7.86},{"t":"2011-04-10 16","v":8.4},{"t":"2011-04-11 06","v":7.87},{"t":"2011-04-11 16","v":8.44},{"t":"2011-04-12 06","v":7.88},{"t":"2011-04-12 16","v":8.47},{"t":"2011-04-13 06","v":7.87},{"t":"2011-04-13 16","v":8.45},{"t":"2011-04-14 06","v":7.86},{"t":"2011-04-14 16","v":8.48},{"t":"2011-04-15 06","v":7.88},{"t":"2011-04-15 16","v":8.5},{"t":"2011-04-16 06","v":7.89},{"t":"2011-04-16 16","v":8.52},{"t":"2011-04-17 06","v":7.9},{"t":"2011-04-17 16","v":8.55},{"t":"2011-04-18 06","v":7.9},{"t":"2011-04-18 16","v":8.6},{"t":"2011-04-19 06","v":7.91},{"t":"2011-04-19 16","v":8.62},{"t":"2011-04-20 06","v":7.9},{"t":"2011-04-20 16","v":8.6},{"t":"2011-04-21 06","v":7.92},{"t":"2011-04-21 16","v":8.58},{"t":"2011-04-22 06","v":7.93},{"t":"2011-04-22 16","v":8.55},{"t":"2011-04-23 06","v":7.93},{"t":"2011-04-23 16","v":8.6},{"t":"2011-04-24 06","v":7.92},{"t":"2011-04-24 16","v":8.57},{"t":"2011-04-25 06","v":7.9},{"t":"2011-04-25 16","v":8.5},{"t":"2011-04-26 06","v":7.92},{"t":"2011-04-26 16","v":8.45},{"t":"2011-04-27 06","v":7.93},{"t":"2011-04-27 16","v":8.38},{"t":"2011-04-28 06","v":7.95},{"t":"2011-04-28 16","v":8.3},{"t":"2011-04-29 06","v":7.96},{"t":"2011-04-29 16","v":8.22},{"t":"2011-04-30 06","v":7.97},{"t":"2011-04-30 16","v":8.15},{"t":"2011-05-01 06","v":7.98},{"t":"2011-05-01 16","v":8.1},{"t":"2011-05-02 06","v":7.97},{"t":"2011-05-02 16","v":8.08},{"t":"2011-05-03 06","v":7.98},{"t":"2011-05-03 16","v":8.06},
{"t":"2011-05-04 12","v":8.02},{"t":"2011-05-05 12","v":8.07},{"t":"2011-05-06 12","v":8.0},{"t":"2011-05-07 12","v":8.05},{"t":"2011-05-08 12","v":7.98},{"t":"2011-05-09 12","v":8.04},{"t":"2011-05-10 12","v":7.95},{"t":"2011-05-11 12","v":8.0},{"t":"2011-05-12 12","v":7.85},{"t":"2011-05-13 12","v":7.8},{"t":"2011-05-14 12","v":7.92},{"t":"2011-05-15 12","v":8.0},{"t":"2011-05-16 12","v":7.97},{"t":"2011-05-17 12","v":8.04},{"t":"2011-05-18 12","v":7.98},{"t":"2011-05-19 12","v":8.05},{"t":"2011-05-20 12","v":7.98},{"t":"2011-05-21 12","v":8.06},{"t":"2011-05-22 12","v":8.0},{"t":"2011-05-23 12","v":8.08},{"t":"2011-05-24 12","v":8.01},{"t":"2011-05-25 12","v":8.1},{"t":"2011-05-26 12","v":8.02},{"t":"2011-05-27 12","v":8.07},{"t":"2011-05-28 12","v":7.97},{"t":"2011-05-29 12","v":8.03},{"t":"2011-05-30 12","v":7.96},{"t":"2011-05-31 12","v":8.02},{"t":"2011-06-01 12","v":8.0},{"t":"2011-06-02 12","v":8.07},{"t":"2011-06-03 12","v":8.02},{"t":"2011-06-04 12","v":8.1},{"t":"2011-06-05 12","v":8.03},{"t":"2011-06-06 12","v":8.08},{"t":"2011-06-07 12","v":8.0},{"t":"2011-06-08 12","v":8.06},{"t":"2011-06-09 12","v":8.02},{"t":"2011-06-10 12","v":8.1},{"t":"2011-06-11 12","v":8.04},{"t":"2011-06-12 12","v":8.08},{"t":"2011-06-13 12","v":8.01},{"t":"2011-06-14 12","v":8.06},{"t":"2011-06-15 12","v":8.0},{"t":"2011-06-16 12","v":8.07},{"t":"2011-06-17 12","v":8.02},{"t":"2011-06-18 12","v":8.09},{"t":"2011-06-19 12","v":8.03},{"t":"2011-06-20 12","v":8.08},{"t":"2011-06-21 12","v":8.04},
{"t":"2011-06-25 00","v":null},
{"t":"2011-06-29 12","v":8.04},{"t":"2011-06-30 12","v":8.1},{"t":"2011-07-01 12","v":8.05},{"t":"2011-07-02 12","v":8.11},{"t":"2011-07-03 12","v":8.04},{"t":"2011-07-04 12","v":8.1},{"t":"2011-07-05 12","v":8.06},{"t":"2011-07-06 12","v":8.12},{"t":"2011-07-07 12","v":8.05},{"t":"2011-07-08 12","v":8.1},{"t":"2011-07-09 12","v":8.06},{"t":"2011-07-10 12","v":8.12},{"t":"2011-07-11 12","v":8.07},{"t":"2011-07-12 12","v":8.12},{"t":"2011-07-13 12","v":8.06},{"t":"2011-07-14 12","v":8.11},{"t":"2011-07-15 12","v":8.07},{"t":"2011-07-16 12","v":8.13},{"t":"2011-07-17 12","v":8.07},{"t":"2011-07-18 12","v":8.12},{"t":"2011-07-19 12","v":8.06},{"t":"2011-07-20 12","v":8.11},{"t":"2011-07-21 12","v":8.05},{"t":"2011-07-22 12","v":8.1},{"t":"2011-07-23 12","v":8.06},{"t":"2011-07-24 12","v":8.12},{"t":"2011-07-25 12","v":8.06},{"t":"2011-07-26 12","v":8.11},{"t":"2011-07-27 12","v":8.05},{"t":"2011-07-28 12","v":8.1},{"t":"2011-07-29 12","v":8.04},{"t":"2011-07-30 12","v":8.1},{"t":"2011-07-31 12","v":8.05},{"t":"2011-08-01 12","v":8.11},{"t":"2011-08-02 12","v":8.04},{"t":"2011-08-03 12","v":8.1},{"t":"2011-08-04 12","v":8.03},{"t":"2011-08-05 12","v":8.09},{"t":"2011-08-06 12","v":8.04},{"t":"2011-08-07 12","v":8.1},{"t":"2011-08-08 12","v":8.05},{"t":"2011-08-09 12","v":8.11},{"t":"2011-08-10 12","v":8.05},{"t":"2011-08-11 12","v":8.1},{"t":"2011-08-12 12","v":8.04},{"t":"2011-08-13 12","v":8.09},{"t":"2011-08-14 12","v":8.03},{"t":"2011-08-15 12","v":8.08},{"t":"2011-08-16 12","v":8.02},{"t":"2011-08-17 12","v":8.07},{"t":"2011-08-18 12","v":8.03},{"t":"2011-08-19 12","v":8.08},{"t":"2011-08-20 12","v":8.02},{"t":"2011-08-21 12","v":8.07},{"t":"2011-08-22 12","v":8.03},{"t":"2011-08-23 12","v":8.06},{"t":"2011-08-24 12","v":8.0},{"t":"2011-08-25 12","v":7.9},{"t":"2011-08-26 12","v":8.02},{"t":"2011-08-27 12","v":7.97},{"t":"2011-08-28 12","v":8.05},{"t":"2011-08-29 12","v":8.02},{"t":"2011-08-30 12","v":8.08},{"t":"2011-08-31 12","v":8.06},{"t":"2011-09-01 12","v":8.12},{"t":"2011-09-02 12","v":8.1},{"t":"2011-09-03 12","v":8.15},{"t":"2011-09-04 12","v":8.08},{"t":"2011-09-05 12","v":8.03},
{"t":"2011-09-07 00","v":null},{"t":"2011-09-08 02","v":8.05},{"t":"2011-09-08 22","v":8.08},
{"t":"2011-09-11 00","v":null},{"t":"2011-09-13 00","v":8.07},{"t":"2011-09-14 07","v":8.07},
{"t":"2011-09-15 03","v":null},{"t":"2011-09-15 22","v":8.12},{"t":"2011-09-17 12","v":8.15},{"t":"2011-09-19 05","v":8.1},
{"t":"2011-09-19 20","v":null},{"t":"2011-09-20 10","v":8.12},{"t":"2011-09-22 02","v":8.08},
{"t":"2011-09-23 00","v":null},{"t":"2011-09-24 05","v":8.12},{"t":"2011-09-25 19","v":8.08},
{"t":"2011-09-26 20","v":null},{"t":"2011-09-27 22","v":8.03},{"t":"2011-09-29 02","v":8.0},
{"t":"2011-09-29 20","v":null},{"t":"2011-09-30 17","v":8.07},{"t":"2011-10-02 19","v":8.06},
{"t":"2011-10-03 20","v":null},{"t":"2011-10-04 22","v":8.04},{"t":"2011-10-07 07","v":8.02},
{"t":"2011-10-15 00","v":null},{"t":"2011-10-23 19","v":8.07},{"t":"2011-10-26 00","v":8.08},{"t":"2011-10-28 07","v":8.05},
{"t":"2011-10-29 20","v":null},{"t":"2011-10-31 05","v":8.03},{"t":"2011-11-01 02","v":7.99},
{"t":"2011-11-07 00","v":null},{"t":"2011-11-12 22","v":8.1},{"t":"2011-11-16 14","v":8.14},
{"t":"2011-11-17 12","v":null},
{"t":"2011-11-18 19","v":8.16},{"t":"2011-11-19 12","v":8.12},{"t":"2011-11-20 12","v":8.17},{"t":"2011-11-21 12","v":8.13},{"t":"2011-11-22 12","v":8.18},{"t":"2011-11-23 12","v":8.13},{"t":"2011-11-24 12","v":8.17},{"t":"2011-11-25 12","v":8.12},{"t":"2011-11-26 12","v":8.17},{"t":"2011-11-27 12","v":8.12},{"t":"2011-11-28 12","v":8.17},{"t":"2011-11-29 12","v":8.1},{"t":"2011-11-30 12","v":8.15},{"t":"2011-12-01 12","v":8.12},{"t":"2011-12-02 12","v":8.15},{"t":"2011-12-03 12","v":8.11},{"t":"2011-12-04 12","v":8.14},{"t":"2011-12-05 12","v":8.11},{"t":"2011-12-06 12","v":8.13},{"t":"2011-12-07 12","v":8.1},{"t":"2011-12-08 12","v":8.12},{"t":"2011-12-09 12","v":8.08},{"t":"2011-12-10 12","v":8.05},{"t":"2011-12-11 12","v":8.02},{"t":"2011-12-12 12","v":8.02},{"t":"2011-12-13 12","v":8.01},{"t":"2011-12-14 12","v":8.03},{"t":"2011-12-15 12","v":8.0},{"t":"2011-12-16 12","v":8.02},{"t":"2011-12-17 12","v":8.01},{"t":"2011-12-18 12","v":8.03},{"t":"2011-12-19 12","v":8.0},{"t":"2011-12-20 12","v":8.02},{"t":"2011-12-21 12","v":8.0},{"t":"2011-12-22 12","v":8.01},{"t":"2011-12-23 12","v":7.99},{"t":"2011-12-24 12","v":7.97},{"t":"2011-12-25 12","v":7.95},{"t":"2011-12-26 12","v":7.98},{"t":"2011-12-27 12","v":7.96},{"t":"2011-12-28 12","v":7.98},{"t":"2011-12-29 12","v":8.0},{"t":"2011-12-30 12","v":8.01},{"t":"2011-12-31 23","v":8.0}
]},
"mark":{"type":"line","color":"#00eeee","strokeWidth":1.6,"invalid":"break-paths-show-domains"},
"encoding":{
"x":{"field":"t","type":"temporal","scale":{"domain":[{"year":2011,"month":1,"date":1},{"year":2012,"month":1,"date":1}]},"axis":{"values":[{"year":2011,"month":1,"date":1},{"year":2011,"month":2,"date":1},{"year":2011,"month":3,"date":1},{"year":2011,"month":4,"date":1},{"year":2011,"month":5,"date":1},{"year":2011,"month":6,"date":1},{"year":2011,"month":7,"date":1},{"year":2011,"month":8,"date":1},{"year":2011,"month":9,"date":1},{"year":2011,"month":10,"date":1},{"year":2011,"month":11,"date":1},{"year":2011,"month":12,"date":1},{"year":2012,"month":1,"date":1}],"tickSize":12,"labelExpr":"year(datum.value) > 2011 ? '' : timeFormat(datum.value, '%b')","labelOffset":{"condition":{"test":"month(datum.value) == 1","value":32},"value":35},"labelPadding":-2,"title":"2011","titleFontSize":16,"titlePadding":4}},
"y":{"field":"v","type":"quantitative","scale":{"domain":[7,9],"nice":false,"zero":false},"axis":{"orient":"left","values":[7,7.25,7.5,7.75,8,8.25,8.5,8.75,9],"labelExpr":"round(datum.value*100) % 50 === 0 ? replace(format(datum.value, '.1f'), '.', ',') : ''","tickSize":{"condition":{"test":"round(datum.value*100) % 50 === 0","value":-12},"value":-6},"labelPadding":26,"title":"pH [-]","titleX":-47}}}},
{"data":{"values":[{"v":8}]},"mark":{"type":"rule","opacity":0},
"encoding":{"y":{"field":"v","type":"quantitative","scale":{"domain":[7,9],"nice":false,"zero":false},"axis":{"orient":"right","values":[7,7.25,7.5,7.75,8,8.25,8.5,8.75,9],"labels":false,"title":null,"tickSize":{"condition":{"test":"round(datum.value*100) % 50 === 0","value":-12},"value":-6}}}}}
]}
]
}
